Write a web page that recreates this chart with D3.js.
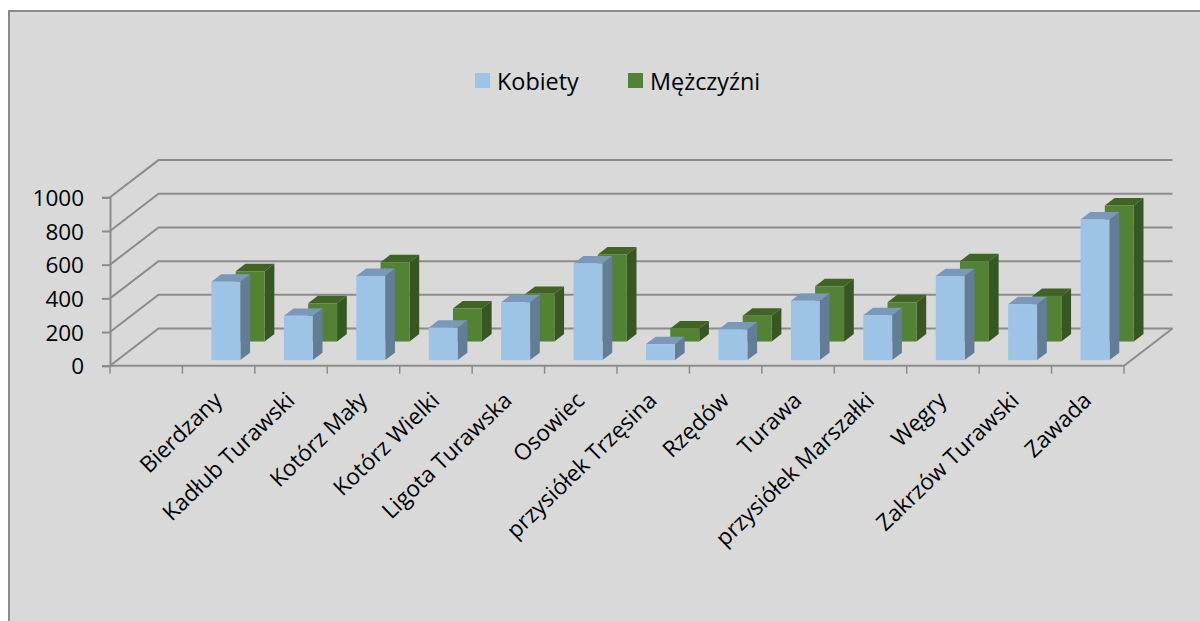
<!DOCTYPE html>
<html>
<head>
<meta charset="utf-8">
<script src="https://cdn.jsdelivr.net/npm/d3@7"></script>
<style>
  html, body { margin: 0; padding: 0; background: #fff; }
  text { font-family: "Open Sans", sans-serif; fill: #000; }
</style>
</head>
<body>
<div id="chart"></div>
<script>
const categories = ["", "Bierdzany", "Kadłub Turawski", "Kotórz Mały", "Kotórz Wielki", "Ligota Turawska", "Osowiec",
  "przysiółek Trzęsina", "Rzędów", "Turawa", "przysiółek Marszałki", "Węgry", "Zakrzów Turawski", "Zawada"];
const kobiety = [null, 465, 263, 500, 192, 344, 574, 95, 182, 352, 267, 499, 332, 835];
const mezczyzni = [null, 417, 227, 471, 196, 283, 517, 77, 153, 328, 233, 477, 271, 808];
const yTicks = [0, 200, 400, 600, 800, 1000];

const width = 1200, height = 621;
const fontSize = 22.5;

const svg = d3.select("#chart").append("svg")
  .attr("width", width)
  .attr("height", height)
  .style("display", "block");

svg.append("rect")
  .attr("x", 9).attr("y", 11)
  .attr("width", width).attr("height", height)
  .attr("fill", "#d9d9d9")
  .attr("stroke", "#8c8c8c")
  .attr("stroke-width", 2);

const x = d3.scaleBand().domain(categories).range([110, 1124]).paddingInner(0.6).paddingOuter(0.3);
const y = d3.scaleLinear().domain([0, 1000]).range([365.7, 197.3]);

// how far the floor runs back into the picture
const depthX = d3.scaleLinear().domain([0, 1]).range([0, 48.5]);
const depthY = d3.scaleLinear().domain([0, 1]).range([0, -37.2]);

const gridColor = "#8c8c8c";

// walls and floor
const grid = svg.append("g")
  .attr("fill", "none")
  .attr("stroke", gridColor)
  .attr("stroke-width", 2);

yTicks.forEach(t => {
  grid.append("path").attr("d", d3.line()([
    [110, y(t)],
    [110 + depthX(1), y(t) + depthY(1)],
    [1124 + depthX(1), y(t) + depthY(1)]
  ]));
});
grid.append("path").attr("d", d3.line()([
  [1124, y(0)],
  [1124 + depthX(1), y(0) + depthY(1)]
]));

function drawSeries(values, depth, colors) {
  const barDepth = 0.2;
  const dx = depthX(barDepth), dy = depthY(barDepth);
  const sx = depthX(depth - barDepth / 2), sy = depthY(depth - barDepth / 2);
  const w = x.bandwidth();

  const data = categories.map((c, i) => ({ c: c, v: values[i] })).filter(d => d.v != null);
  const g = svg.append("g").selectAll("g").data(data).enter().append("g");

  // side
  g.append("path")
    .attr("fill", colors.side)
    .attr("d", d => {
      const l = x(d.c) + sx + w, t = y(d.v) + sy, b = y(0) + sy;
      return `M${l},${t}l${dx},${dy}L${l + dx},${b + dy}L${l},${b}Z`;
    });
  // top
  g.append("path")
    .attr("fill", colors.top)
    .attr("d", d => {
      const l = x(d.c) + sx, t = y(d.v) + sy;
      return `M${l},${t}l${dx},${dy}h${w}l${-dx},${-dy}Z`;
    });
  // front
  g.append("rect")
    .attr("fill", colors.front)
    .attr("x", d => x(d.c) + sx)
    .attr("y", d => y(d.v) + sy)
    .attr("width", w)
    .attr("height", d => y(0) - y(d.v));
}

drawSeries(mezczyzni, 0.75, { front: "#548235", side: "#375623", top: "#3f6424" });
drawSeries(kobiety, 0.25, { front: "#9dc3e6", side: "#647d97", top: "#7a98ba" });

// y axis
const yAxis = d3.axisLeft(y).tickValues(yTicks).tickSize(8).tickPadding(18).tickFormat(d3.format("d"));
const yG = svg.append("g").attr("transform", "translate(110,0)").call(yAxis);
yG.selectAll("path,line").attr("stroke", gridColor).attr("stroke-width", 2);
yG.selectAll("text").attr("font-size", fontSize).attr("font-family", '"Open Sans", sans-serif').attr("dy", "0.36em");

// x axis, ticks sit on the band edges
const step = x.step();
const xG = svg.append("g").attr("transform", `translate(0,${y(0)})`);
xG.append("path")
  .attr("d", d3.line()([[110, 0], [1124, 0]]))
  .attr("stroke", gridColor).attr("stroke-width", 2).attr("fill", "none");
xG.selectAll("line").data(categories.concat("end")).enter().append("line")
  .attr("x1", (d, i) => 110 + i * step)
  .attr("x2", (d, i) => 110 + i * step)
  .attr("y1", 0).attr("y2", 8)
  .attr("stroke", gridColor).attr("stroke-width", 1.5);

svg.append("g").selectAll("text").data(categories.filter(c => c)).enter().append("text")
  .attr("text-anchor", "end")
  .attr("font-size", fontSize)
  .attr("transform", d => `translate(${x(d) + x.bandwidth() / 2 + 5},402) rotate(-44)`)
  .text(d => d);

// legend
const legend = [["Kobiety", "#9dc3e6", 475], ["Mężczyźni", "#548235", 628]];
const lg = svg.append("g").selectAll("g").data(legend).enter().append("g")
  .attr("transform", d => `translate(${d[2]},73)`);
lg.append("rect").attr("width", 15).attr("height", 15).attr("fill", d => d[1]);
lg.append("text").attr("x", 22).attr("y", 16.5).attr("font-size", 23.4).text(d => d[0]);
</script>
</body>
</html>
